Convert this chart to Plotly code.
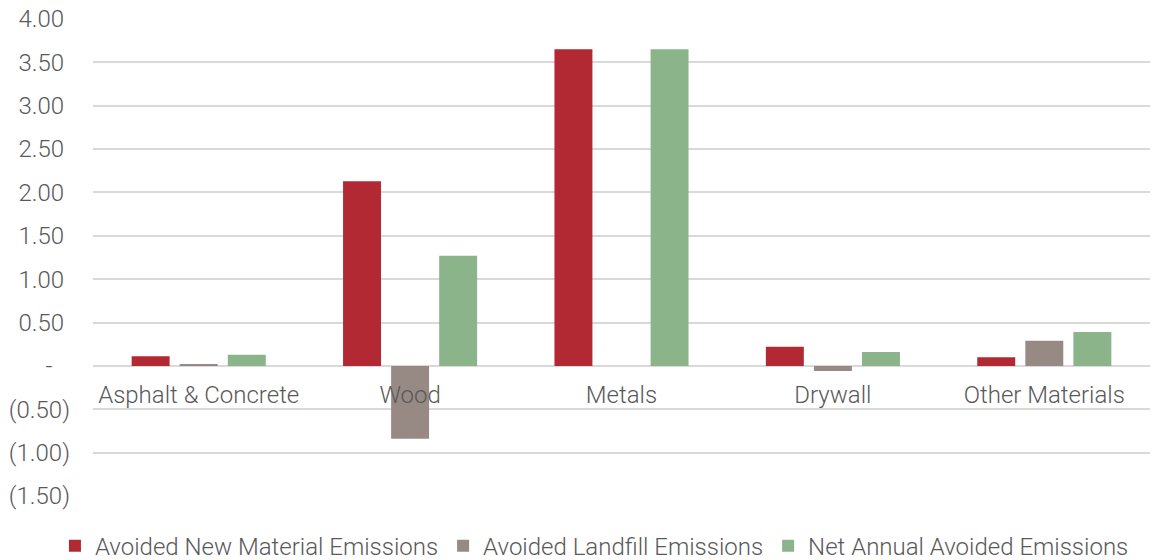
import plotly.graph_objects as go

categories = ["Asphalt & Concrete", "Wood", "Metals", "Drywall", "Other Materials"]
avoided_new = [0.11, 2.13, 3.65, 0.22, 0.10]
avoided_landfill = [0.02, -0.84, 0.0, -0.06, 0.29]
net_annual = [0.13, 1.27, 3.65, 0.16, 0.39]

series_names = ["Avoided New Material Emissions", "Avoided Landfill Emissions", "Net Annual Avoided Emissions"]
series_values = [avoided_new, avoided_landfill, net_annual]
colors = ["#B22833", "#978A84", "#8BB48A"]

tick_vals = [4.0, 3.5, 3.0, 2.5, 2.0, 1.5, 1.0, 0.5, 0.0, -0.5, -1.0, -1.5]
NB = "\u00a0"
def fmt(v):
    if v == 0:
        return "-" + NB * 3
    if v < 0:
        return "({:.2f})".format(-v)
    return "{:.2f}".format(v) + NB

tick_text = [fmt(v) for v in tick_vals]

font_family = "Roboto"
text_color = "#595959"
FS = 24

fig = go.Figure()
for name, vals, col in zip(series_names, series_values, colors):
    fig.add_trace(go.Bar(
        x=categories, y=vals, name=name,
        marker=dict(color=col, line=dict(width=0)),
    ))

ymin, ymax = -1.5, 4.0
fig.update_layout(
    width=1150, height=552,
    margin=dict(l=85, r=8, t=11, b=64, autoexpand=False),
    paper_bgcolor="white", plot_bgcolor="white",
    barmode="group", bargap=0.318, bargroupgap=0.21,
    font=dict(family=font_family, size=FS, color=text_color, weight=300),
    showlegend=True,
    legend=dict(orientation="h",
                x=-0.036, xanchor="left", y=-0.105, yanchor="middle",
                font=dict(size=FS, color=text_color, family=font_family, weight=300),
                traceorder="normal", itemwidth=30, tracegroupgap=0),
    xaxis=dict(
        showgrid=False, showline=False, zeroline=False, automargin=False,
        anchor="free", position=(0 - ymin) / (ymax - ymin),
        ticks="", tickfont=dict(size=FS, color=text_color, family=font_family, weight=300),
        ticklabelstandoff=12, ticklabeloverflow="allow",
    ),
    yaxis=dict(
        range=[ymin, ymax], tickvals=tick_vals, ticktext=tick_text, automargin=False,
        showgrid=True, gridcolor="#D9D9D9", gridwidth=1.5,
        zeroline=True, zerolinecolor="#D9D9D9", zerolinewidth=1.5,
        showline=False, ticks="", ticklabeloverflow="allow",
        tickfont=dict(size=FS, color=text_color, family=font_family, weight=300),
        ticklabelstandoff=22,
    ),
)

fig.write_html("out.html")
